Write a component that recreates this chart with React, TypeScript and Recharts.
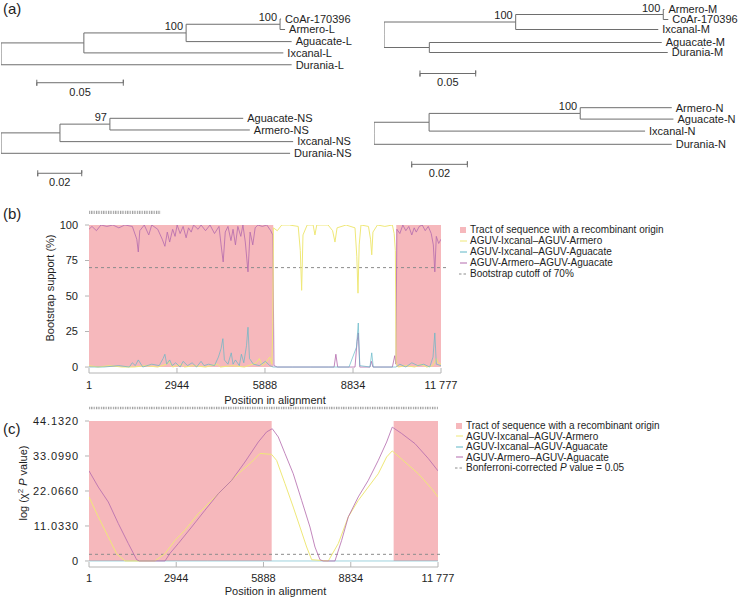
import React from "react";
import {
  ComposedChart,
  Line,
  Scatter,
  XAxis,
  YAxis,
  ReferenceArea,
  ReferenceLine,
} from "recharts";

const FONT = "'Liberation Sans', Arial, Helvetica, sans-serif";
const TEXT = "#1e1e1e";
const AXIS = "#b4b4b4";
const TREE = "#6e6e6e";
const PINK = "#f6b8bc";
const YELLOW = "#efe878";
const TEAL = "#5fb6c6";
const PURPLE = "#b36aad";
const DASH = "#8c8c8c";

// ---- (a) trees: node names, parent, branch length, bootstrap, leaf row ----
const treeLNames = ["root", "L1", "L2", "L3", "CoAr-170396", "Armero-L", "Aguacate-L", "Ixcanal-L", "Durania-L"];
const treeLParents = ["", "root", "L1", "L2", "L3", "L3", "L2", "L1", "root"];
const treeLLengths = [0, 0.0479, 0.0591, 0.0543, 0.0006, 0.0029, 0.061, 0.1153, 0.168];
const treeLSupport = [null, null, 100, 100, null, null, null, null, null];
const treeLRows = [0, 0, 0, 0, 0, 0.93, 2, 3, 4.05];

const treeMNames = ["root", "M1", "M2", "Armero-M", "CoAr-170396", "Ixcanal-M", "M3", "Aguacate-M", "Durania-M"];
const treeMParents = ["", "root", "M1", "M2", "M2", "M1", "root", "M3", "M3"];
const treeMLengths = [0, 0.1182, 0.1325, 0.001, 0.0045, 0.128, 0.0407, 0.2086, 0.214];
const treeMSupport = [null, 100, 100, null, null, null, null, null, null];
const treeMRows = [0, 0, 0, 0, 1, 2, 0, 3.3, 4.3];

const treeNSNames = ["root", "S1", "S2", "Aguacate-NS", "Armero-NS", "Ixcanal-NS", "Durania-NS"];
const treeNSParents = ["", "root", "S1", "S2", "S2", "S1", "root"];
const treeNSLengths = [0, 0.0268, 0.0227, 0.0606, 0.0636, 0.106, 0.1314];
const treeNSSupport = [null, null, 97, null, null, null, null];
const treeNSRows = [0, 0, 0, 0, 1, 2, 3];

const treeNNames = ["root", "N1", "N2", "Armero-N", "Aguacate-N", "Ixcanal-N", "Durania-N"];
const treeNParents = ["", "root", "N1", "N2", "N2", "N1", "root"];
const treeNLengths = [0, 0.0198, 0.0543, 0.0329, 0.0335, 0.0776, 0.107];
const treeNSupportVals = [null, null, 100, null, null, null, null];
const treeNRows = [0, 0, 0, 0, 0.95, 1.95, 3.05];

// ---- (b) bootscan ----
const posTicks = [1, 2944, 5888, 8834, 11777];
const bootTicks = [0, 25, 50, 75, 100];
const recombTracts = [
  [1, 6165],
  [10280, 11777],
];

const purpleBPos = [1, 100, 250, 400, 600, 800, 1000, 1200, 1450, 1600, 1650, 1700, 1850, 2000, 2100, 2300, 2450, 2540, 2620, 2700, 2800, 2880, 2950, 3050, 3150, 3250, 3330, 3420, 3500, 3650, 3750, 3900, 4050, 4200, 4350, 4420, 4490, 4560, 4650, 4750, 4820, 4900, 4980, 5080, 5150, 5230, 5320, 5390, 5480, 5560, 5650, 5800, 5950, 6080, 6150, 6190, 6300, 6800, 7400, 8000, 8200, 8260, 8320, 8900, 8970, 9010, 9060, 9400, 9450, 9500, 10150, 10230, 10270, 10300, 10400, 10500, 10600, 10700, 10800, 10880, 10950, 11050, 11150, 11250, 11350, 11450, 11520, 11570, 11620, 11700, 11777];
const purpleBVal = [97, 99, 96, 100, 99, 100, 98, 100, 99, 90, 81, 96, 100, 93, 100, 97, 90, 85, 95, 88, 97, 92, 100, 94, 99, 91, 98, 95, 100, 97, 100, 96, 100, 94, 99, 86, 74, 95, 99, 89, 97, 86, 99, 92, 100, 88, 67, 95, 86, 98, 100, 99, 100, 96, 93, 1, 0, 0, 0, 0, 0, 9, 0, 0, 18, 24, 0, 0, 4, 0, 0, 8, 2, 97, 94, 100, 96, 99, 93, 98, 95, 99, 100, 96, 99, 94, 86, 67, 92, 87, 90];

const yellowBPos = [1, 300, 700, 1100, 1500, 1900, 2300, 2600, 2680, 2800, 3100, 3200, 3500, 3900, 4300, 4400, 4800, 5200, 5600, 5700, 5800, 5950, 6050, 6120, 6150, 6170, 6300, 6450, 6700, 7000, 7070, 7115, 7160, 7300, 7500, 7560, 7620, 8000, 8150, 8230, 8300, 8600, 8900, 8960, 9000, 9040, 9100, 9350, 9420, 9460, 9500, 9650, 9900, 10150, 10210, 10250, 10275, 10350, 10600, 10900, 11100, 11300, 11500, 11620, 11680, 11777];
const yellowBVal = [1, 0, 1, 0, 0, 1, 0, 2, 4, 0, 2, 0, 1, 0, 2, 0, 1, 0, 3, 6, 1, 4, 7, 2, 30, 98, 96, 100, 100, 99, 82, 54, 93, 100, 100, 93, 100, 100, 96, 88, 98, 100, 98, 78, 52, 86, 100, 99, 90, 79, 95, 100, 99, 100, 94, 82, 3, 0, 1, 0, 2, 0, 1, 6, 3, 2];

const tealBPos = [1, 500, 1000, 1350, 1450, 1550, 1650, 1800, 2100, 2350, 2480, 2540, 2600, 2700, 2780, 2900, 3050, 3150, 3300, 3450, 3600, 3750, 3850, 4000, 4200, 4330, 4420, 4480, 4530, 4650, 4760, 4820, 4900, 5030, 5100, 5180, 5270, 5320, 5370, 5500, 5700, 5900, 6050, 6160, 6500, 7500, 8700, 8950, 9010, 9060, 9400, 9460, 9510, 9800, 10270, 10400, 10600, 10800, 11000, 11200, 11400, 11510, 11570, 11620, 11777];
const tealBVal = [0, 0, 1, 0, 3, 1, 5, 0, 2, 1, 6, 9, 2, 5, 1, 3, 0, 4, 1, 3, 0, 4, 1, 2, 1, 7, 13, 20, 5, 2, 10, 2, 5, 1, 9, 3, 15, 28, 6, 2, 1, 4, 1, 0, 0, 0, 0, 14, 31, 1, 0, 10, 0, 0, 0, 2, 0, 3, 1, 2, 0, 7, 24, 2, 1];

// ---- (c) maxchi ----
const chiTicks = [0, 11.033, 22.066, 33.099, 44.132];

const purpleCPos = [1, 315, 652, 990, 1327, 1610, 1700, 2565, 2733, 3014, 3464, 3914, 4363, 4813, 5263, 5713, 5995, 6185, 6388, 6613, 6893, 7176, 7457, 7626, 7795, 7900, 8300, 8526, 8750, 9087, 9424, 9761, 10044, 10233, 10550, 11000, 11450, 11777];
const purpleCVal = [28.4, 23.3, 18.6, 11.8, 5.5, 0.4, 0, 0, 2.4, 5.5, 10.7, 16, 21.2, 25.4, 31.2, 37.5, 40.7, 41.7, 39.1, 33.9, 27.5, 19.1, 10.7, 4.4, 0.4, 0, 0, 6.5, 13.9, 20.2, 25.4, 31.7, 37.5, 42.2, 40.2, 37, 32.3, 28.4];

const yellowCPos = [1, 315, 652, 934, 1215, 2228, 2565, 2902, 3240, 3689, 4139, 4589, 5038, 5488, 5770, 6163, 6332, 6613, 6893, 7120, 7345, 7514, 8075, 8413, 8750, 9087, 9424, 9761, 10044, 10233, 10663, 11113, 11563, 11777];
const yellowCVal = [20.2, 13.9, 7.6, 2.3, 0, 0, 2.3, 6.5, 9.7, 14.9, 19.1, 23.3, 27.5, 31.2, 33.9, 33.6, 31.7, 24.4, 17, 10.7, 4.4, 0.4, 0, 5.5, 13.9, 19.1, 23.3, 27.5, 32.8, 34.7, 31.2, 27.5, 22.8, 20.2];

const tealCPos = [1, 4000, 8000, 11777];
const tealCVal = [0, 0, 0, 0];

const toPoints = (pos: number[], val: number[]) => pos.map((p, i) => ({ pos: p, v: val[i] }));

const fmtPos = (v: number) => (v === 11777 ? "11 777" : String(v));

type LegendItem = { kind: "box" | "line" | "dash"; color: string; text: React.ReactNode };

const legendB: LegendItem[] = [
  { kind: "box", color: PINK, text: "Tract of sequence with a recombinant origin" },
  { kind: "line", color: YELLOW, text: "AGUV-Ixcanal\u2013AGUV-Armero" },
  { kind: "line", color: TEAL, text: "AGUV-Ixcanal\u2013AGUV-Aguacate" },
  { kind: "line", color: PURPLE, text: "AGUV-Armero\u2013AGUV-Aguacate" },
  { kind: "dash", color: DASH, text: "Bootstrap cutoff of 70%" },
];

const legendC: LegendItem[] = [
  { kind: "box", color: PINK, text: "Tract of sequence with a recombinant origin" },
  { kind: "line", color: YELLOW, text: "AGUV-Ixcanal\u2013AGUV-Armero" },
  { kind: "line", color: TEAL, text: "AGUV-Ixcanal\u2013AGUV-Aguacate" },
  { kind: "line", color: PURPLE, text: "AGUV-Armero\u2013AGUV-Aguacate" },
  {
    kind: "dash",
    color: DASH,
    text: (
      <>
        Bonferroni-corrected <i>P</i> value = 0.05
      </>
    ),
  },
];

// ---------- tree helpers ----------
function layoutTree(names: string[], parents: string[], lengths: number[], rows: number[]) {
  const kids = names.map((n) => names.map((_, j) => j).filter((j) => parents[j] === n));
  const depth = (i: number): number =>
    parents[i] === "" ? 0 : depth(names.indexOf(parents[i])) + lengths[i];
  const rowOf = (i: number): number => {
    if (!kids[i].length) return rows[i];
    const r = kids[i].map(rowOf);
    return (Math.min(...r) + Math.max(...r)) / 2;
  };
  const xs = names.map((_, i) => depth(i));
  const ys = names.map((_, i) => rowOf(i));
  return { xs, ys, kids };
}

const LeafLabel = (s: any) => (
  <text x={s.cx + 4} y={s.cy} dy="0.35em" fontSize={11} fill={TEXT} fontFamily={FONT}>
    {s.payload.text}
  </text>
);

const SupportLabel = (s: any) => (
  <text x={s.cx - 3} y={s.cy - 3} textAnchor="end" fontSize={11} fill={TEXT} fontFamily={FONT}>
    {s.payload.text}
  </text>
);

const BarLabel = (s: any) => (
  <text x={s.cx} y={s.cy + 9} dy="0.35em" textAnchor="middle" fontSize={11} fill={TEXT} fontFamily={FONT}>
    {s.payload.text}
  </text>
);

type TreeProps = {
  names: string[];
  parents: string[];
  lengths: number[];
  support: (number | null)[];
  rows: number[];
  barStart: number;
  barLen: number;
  barRow: number;
  left: number;
  top: number;
  width: number;
  height: number;
  padLeft: number;
  unitPx: number;
  rowPx: number;
  rowTop: number;
};

const Tree = (p: TreeProps) => {
  const { xs, ys, kids } = layoutTree(p.names, p.parents, p.lengths, p.rows);
  const branches = p.names
    .map((_, i) => {
      if (p.parents[i] === "") return null;
      const j = p.names.indexOf(p.parents[i]);
      return [
        { x: xs[j], y: ys[j] },
        { x: xs[j], y: ys[i] },
        { x: xs[i], y: ys[i] },
      ];
    })
    .filter((b) => b !== null) as { x: number; y: number }[][];
  const leaves = p.names
    .map((n, i) => ({ x: xs[i], y: ys[i], text: n }))
    .filter((_, i) => kids[i].length === 0);
  const supports = p.names
    .map((_, i) => ({ x: xs[i], y: ys[i], text: p.support[i] }))
    .filter((d) => d.text !== null);
  const cap = 3 / p.rowPx;
  const b0 = p.barStart;
  const b1 = p.barStart + p.barLen;
  const r = p.barRow;
  const bar = [
    { x: b0, y: r - cap },
    { x: b0, y: r + cap },
    { x: b0, y: r },
    { x: b1, y: r },
    { x: b1, y: r - cap },
    { x: b1, y: r + cap },
  ];
  const barText = [{ x: (b0 + b1) / 2, y: r, text: String(p.barLen) }];

  return (
    <div style={{ position: "absolute", left: p.left, top: p.top }}>
      <ComposedChart
        width={p.width}
        height={p.height}
        margin={{ top: 0, right: 0, bottom: 0, left: p.padLeft }}
      >
        <XAxis
          type="number"
          dataKey="x"
          hide
          height={0}
          allowDataOverflow
          domain={[0, (p.width - p.padLeft) / p.unitPx]}
        />
        <YAxis
          type="number"
          dataKey="y"
          hide
          width={0}
          reversed
          allowDataOverflow
          domain={[-p.rowTop / p.rowPx, (p.height - p.rowTop) / p.rowPx]}
        />
        {branches.map((b, i) => (
          <Line
            key={i}
            data={b}
            dataKey="y"
            type="linear"
            stroke={TREE}
            strokeWidth={1}
            dot={false}
            activeDot={false}
            isAnimationActive={false}
          />
        ))}
        <Line
          data={bar}
          dataKey="y"
          type="linear"
          stroke={TREE}
          strokeWidth={1}
          dot={false}
          activeDot={false}
          isAnimationActive={false}
        />
        <Scatter data={leaves} shape={LeafLabel} isAnimationActive={false} />
        <Scatter data={supports} shape={SupportLabel} isAnimationActive={false} />
        <Scatter data={barText} shape={BarLabel} isAnimationActive={false} />
      </ComposedChart>
    </div>
  );
};

// ---------- axis helpers ----------
const makePosTick = (offset: number) => (props: any) => {
  const { x, y, payload } = props;
  return (
    <g>
      <line x1={x} x2={x} y1={y} y2={y - 5} stroke={AXIS} />
      <text x={x} y={y + offset} dy="0.35em" textAnchor="middle" fontSize={11} fill={TEXT} fontFamily={FONT}>
        {fmtPos(payload.value)}
      </text>
    </g>
  );
};

const makeXLabel = (dx: number, dy: number, fallback: { x: number; y: number; width: number }) => (props: any) => {
  const vb = props.viewBox ?? fallback;
  return (
    <text
      x={vb.x + vb.width / 2 + dx}
      y={vb.y + dy}
      dy="0.35em"
      textAnchor="middle"
      fontSize={11}
      fill={TEXT}
      fontFamily={FONT}
    >
      Position in alignment
    </text>
  );
};

const makeYLabel =
  (content: React.ReactNode, cxFromLeft: number, dyFromMid: number, fallback: { x: number; y: number; height: number }) =>
  (props: any) => {
    const vb = props.viewBox ?? fallback;
    const cx = vb.x + cxFromLeft;
    const cy = vb.y + vb.height / 2 + dyFromMid;
    return (
      <text
        transform={`translate(${cx},${cy}) rotate(-90)`}
        textAnchor="middle"
        dy="0.35em"
        fontSize={11}
        fill={TEXT}
        fontFamily={FONT}
      >
        {content}
      </text>
    );
  };

const ChartLegend = ({ items, left, top, rowH }: { items: LegendItem[]; left: number; top: number; rowH: number }) => (
  <div
    style={{
      position: "absolute",
      left,
      top,
      fontFamily: FONT,
      fontSize: 10,
      color: TEXT,
      whiteSpace: "nowrap",
    }}
  >
    {items.map((it, i) => (
      <div key={i} style={{ display: "flex", alignItems: "center", height: rowH }}>
        <svg width={11} height={10} style={{ flex: "none" }}>
          {it.kind === "box" && <rect x={1} y={2} width={6} height={6} fill={it.color} />}
          {it.kind === "line" && <line x1={1} x2={8} y1={5} y2={5} stroke={it.color} />}
          {it.kind === "dash" && (
            <line x1={0} x2={9} y1={5} y2={5} stroke={it.color} strokeDasharray="2.5 2" />
          )}
        </svg>
        <span>{it.text}</span>
      </div>
    ))}
  </div>
);

const SitesPattern = ({ id }: { id: string }) => (
  <defs>
    <pattern id={id} width="2.4" height="4" patternUnits="userSpaceOnUse">
      <rect width="1.2" height="4" fill="#9c9c9c" />
    </pattern>
  </defs>
);

const BootscanChart = () => {
  const purple = toPoints(purpleBPos, purpleBVal);
  const yellow = toPoints(yellowBPos, yellowBVal);
  const teal = toPoints(tealBPos, tealBVal);
  return (
    <div style={{ position: "absolute", left: 0, top: 200 }}>
      <ComposedChart width={472} height={208} margin={{ top: 25, right: 31, bottom: 0, left: 0 }}>
        <SitesPattern id="sitesB" />
        <XAxis
          type="number"
          dataKey="pos"
          domain={[1, 11777]}
          ticks={posTicks}
          interval={0}
          allowDataOverflow
          height={35}
          axisLine={{ stroke: AXIS }}
          tickLine={false}
          tickSize={0}
          tickMargin={0}
          tick={makePosTick(12)}
          label={makeXLabel(10, 27, { x: 89, y: 373, width: 352 })}
        />
        <YAxis
          type="number"
          domain={[-4.2, 100]}
          ticks={bootTicks}
          interval={0}
          allowDataOverflow
          width={89}
          axisLine={false}
          tickLine={{ stroke: AXIS }}
          tickSize={4}
          tickMargin={7}
          tick={{ fontSize: 11, fill: TEXT, fontFamily: FONT }}
          label={makeYLabel("Bootstrap support (%)", 50, -11, { x: 0, y: 225, height: 148 })}
        />
        {recombTracts.map(([a, b]) => (
          <ReferenceArea key={a} x1={a} x2={b} y1={0} y2={100} fill={PINK} fillOpacity={1} stroke="none" />
        ))}
        <ReferenceArea
          x1={1}
          x2={2410}
          y1={107.7}
          y2={110}
          ifOverflow="visible"
          fill="url(#sitesB)"
          fillOpacity={1}
          stroke="none"
        />
        <ReferenceLine
          segment={[
            { x: 1, y: 70 },
            { x: 12040, y: 70 },
          ]}
          ifOverflow="visible"
          stroke={DASH}
          strokeDasharray="3 3"
        />
        <Line data={purple} dataKey="v" type="linear" stroke={PURPLE} strokeWidth={0.9} strokeOpacity={0.9} dot={false} isAnimationActive={false} />
        <Line data={yellow} dataKey="v" type="linear" stroke={YELLOW} strokeWidth={1} dot={false} isAnimationActive={false} />
        <Line data={teal} dataKey="v" type="linear" stroke={TEAL} strokeWidth={0.9} strokeOpacity={0.75} dot={false} isAnimationActive={false} />
      </ComposedChart>
    </div>
  );
};

const MaxChiChart = () => {
  const purple = toPoints(purpleCPos, purpleCVal);
  const yellow = toPoints(yellowCPos, yellowCVal);
  const teal = toPoints(tealCPos, tealCVal);
  const yTitle = (
    <>
      log (χ<tspan dy={-4} fontSize={8}>2</tspan>
      <tspan dy={4}> </tspan>
      <tspan fontStyle="italic">P</tspan> value)
    </>
  );
  return (
    <div style={{ position: "absolute", left: 0, top: 398 }}>
      <ComposedChart width={470} height={200} margin={{ top: 23, right: 32, bottom: 0, left: 0 }}>
        <SitesPattern id="sitesC" />
        <XAxis
          type="number"
          dataKey="pos"
          domain={[1, 11777]}
          ticks={posTicks}
          interval={0}
          allowDataOverflow
          height={31}
          axisLine={{ stroke: AXIS }}
          tickLine={false}
          tickSize={0}
          tickMargin={0}
          tick={makePosTick(11)}
          label={makeXLabel(12, 24, { x: 89, y: 567, width: 349 })}
        />
        <YAxis
          type="number"
          domain={[-1.9, 44.132]}
          ticks={chiTicks}
          interval={0}
          allowDataOverflow
          width={89}
          axisLine={false}
          tickLine={{ stroke: AXIS }}
          tickSize={4}
          tickMargin={6}
          tickFormatter={(v: number) => (v === 0 ? "0" : v.toFixed(4))}
          tick={{ fontSize: 11, fill: TEXT, fontFamily: FONT, letterSpacing: 0.9 }}
          label={makeYLabel(yTitle, 23, -11, { x: 0, y: 421, height: 146 })}
        />
        {recombTracts.map(([a, b]) => (
          <ReferenceArea key={a} x1={a} x2={b} y1={0} y2={44.132} fill={PINK} fillOpacity={1} stroke="none" />
        ))}
        <ReferenceArea
          x1={1}
          x2={11777}
          y1={47.82}
          y2={48.64}
          ifOverflow="visible"
          fill="url(#sitesC)"
          fillOpacity={1}
          stroke="none"
        />
        <ReferenceLine
          segment={[
            { x: 1, y: 2.1 },
            { x: 11940, y: 2.1 },
          ]}
          ifOverflow="visible"
          stroke={DASH}
          strokeDasharray="3 3"
        />
        <Line data={teal} dataKey="v" type="linear" stroke={TEAL} strokeWidth={1} strokeOpacity={0.6} dot={false} isAnimationActive={false} />
        <Line data={yellow} dataKey="v" type="linear" stroke={YELLOW} strokeWidth={1} dot={false} isAnimationActive={false} />
        <Line data={purple} dataKey="v" type="linear" stroke={PURPLE} strokeWidth={0.9} strokeOpacity={0.9} dot={false} isAnimationActive={false} />
      </ComposedChart>
    </div>
  );
};

const panelLabel = (text: string, top: number) => (
  <div
    style={{
      position: "absolute",
      left: 3,
      top,
      fontFamily: FONT,
      fontSize: 15,
      lineHeight: "17px",
      color: TEXT,
    }}
  >
    {text}
  </div>
);

export default function App() {
  return (
    <div
      style={{
        position: "relative",
        width: 741,
        height: 598,
        overflow: "hidden",
        background: "#fff",
        fontFamily: FONT,
      }}
    >
      <style>{"body{margin:0}"}</style>
      {panelLabel("(a)", 0)}
      <Tree
        names={treeLNames}
        parents={treeLParents}
        lengths={treeLLengths}
        support={treeLSupport}
        rows={treeLRows}
        barStart={0.0207}
        barLen={0.05}
        barRow={5.64}
        left={0}
        top={0}
        width={368}
        height={100}
        padLeft={1}
        unitPx={1730}
        rowPx={11.3}
        rowTop={19}
      />
      <Tree
        names={treeMNames}
        parents={treeMParents}
        lengths={treeMLengths}
        support={treeMSupport}
        rows={treeMRows}
        barStart={0.0323}
        barLen={0.05}
        barRow={6.4}
        left={370}
        top={0}
        width={371}
        height={100}
        padLeft={14}
        unitPx={1114}
        rowPx={10}
        rowTop={9.5}
      />
      <Tree
        names={treeNSNames}
        parents={treeNSParents}
        lengths={treeNSLengths}
        support={treeNSSupport}
        rows={treeNSRows}
        barStart={0.0167}
        barLen={0.02}
        barRow={4.71}
        left={0}
        top={100}
        width={368}
        height={95}
        padLeft={1}
        unitPx={2200}
        rowPx={11.67}
        rowTop={18.3}
      />
      <Tree
        names={treeNNames}
        parents={treeNParents}
        lengths={treeNLengths}
        support={treeNSupportVals}
        rows={treeNRows}
        barStart={0.01355}
        barLen={0.02}
        barRow={4.72}
        left={370}
        top={100}
        width={371}
        height={90}
        padLeft={4}
        unitPx={2783}
        rowPx={12}
        rowTop={7.7}
      />
      {panelLabel("(b)", 205)}
      <BootscanChart />
      <ChartLegend items={legendB} left={459} top={224} rowH={11} />
      {panelLabel("(c)", 420)}
      <MaxChiChart />
      <ChartLegend items={legendC} left={455} top={420.5} rowH={10.5} />
    </div>
  );
}
